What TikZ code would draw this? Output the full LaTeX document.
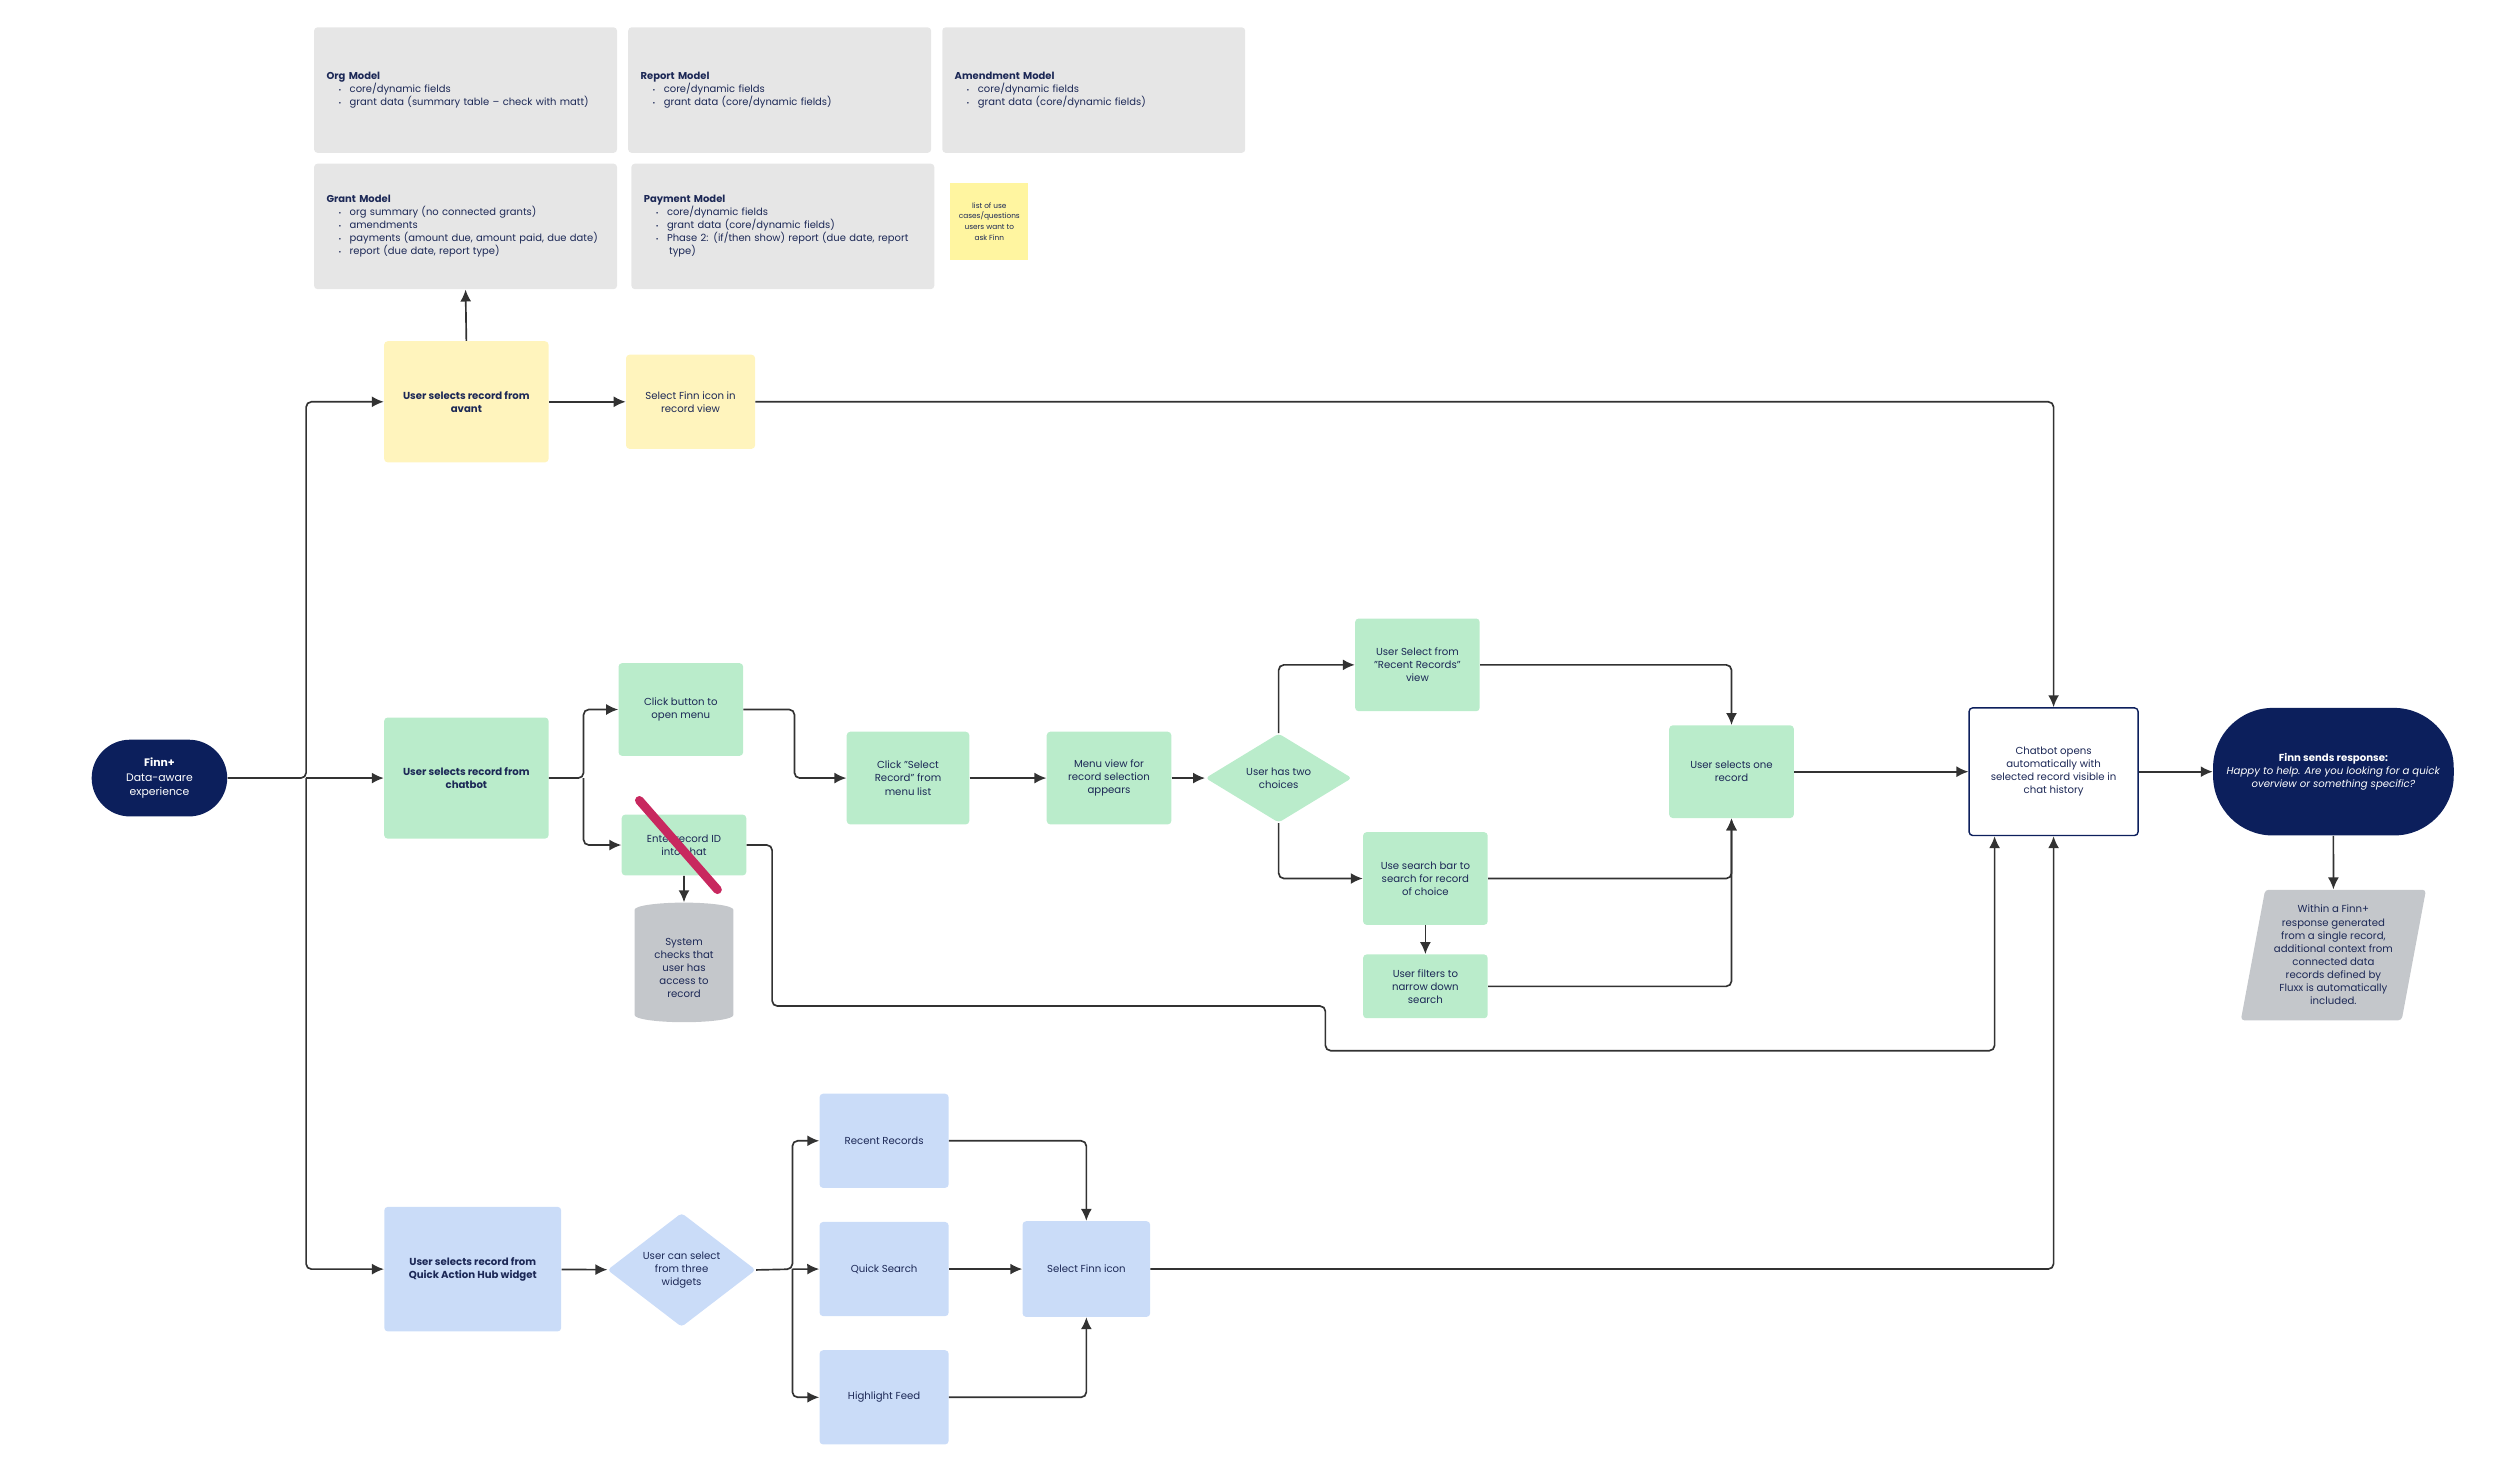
\documentclass[tikz,border=0pt]{standalone}
\usepackage{fontspec}
\setmainfont{Poppins}
\usepackage{tikz}
\usetikzlibrary{shapes.geometric, arrows.meta, positioning, calc}
\definecolor{finnnavy}{RGB}{12,31,92}
\definecolor{inktext}{RGB}{28,40,86}
\definecolor{avantyel}{RGB}{255,244,189}
\definecolor{chatgrn}{RGB}{186,236,203}
\definecolor{hubblu}{RGB}{202,220,248}
\definecolor{modgray}{RGB}{230,230,230}
\definecolor{sysgray}{RGB}{196,199,203}
\definecolor{stickyyel}{RGB}{255,245,160}
\definecolor{linegray}{RGB}{50,50,50}
\definecolor{strikepink}{RGB}{200,40,95}
\newcommand{\mitem}[1]{\hspace*{0.24cm}{\fontsize{3.8}{4}\selectfont\textbullet}\hspace{0.17cm}#1}
\tikzset{
  basebox/.style={rectangle, rounded corners=2pt, align=center, inner sep=2pt, text=inktext},
  ylbox/.style={basebox, fill=avantyel},
  grbox/.style={basebox, fill=chatgrn},
  blbox/.style={basebox, fill=hubblu},
  mdbox/.style={basebox, fill=modgray, inner xsep=0.25cm, text width=5.58cm, align=left,
                minimum width=6.08cm, minimum height=2.52cm, font=\fontsize{5.7}{7.4}\selectfont},
  choice/.style={diamond, rounded corners=2pt, inner sep=0pt, align=center, text=inktext},
  endpt/.style={rectangle, fill=finnnavy, text=white, align=center},
  flow/.style={-{Latex[length=2.4mm, width=2.2mm]}, line width=0.95pt, draw=linegray, rounded corners=3pt},
  strike/.style={line width=5pt, draw=strikepink, line cap=round}
}
\begin{document}
\begin{tikzpicture}[x=0.032cm, y=-0.032cm, every node/.style={font=\fontsize{5.8}{7.5}\selectfont}]
  \useasboundingbox (0,0) rectangle (1568,921);
  % data models
  \node[mdbox] (orgm) at (292,56.5)
        {\textbf{Org Model}\\ \mitem{core/dynamic fields}\\ \mitem{grant data (summary table – check with matt)}};
  \node[mdbox] (reportm) at (489,56.5)
        {\textbf{Report Model}\\ \mitem{core/dynamic fields}\\ \mitem{grant data (core/dynamic fields)}};
  \node[mdbox] (amendm) at (686,56.5)
        {\textbf{Amendment Model}\\ \mitem{core/dynamic fields}\\ \mitem{grant data (core/dynamic fields)}};
  \node[mdbox] (grantm) at (292,142)
        {\textbf{Grant Model}\\ \mitem{org summary (no connected grants)}\\ \mitem{amendments}\\
         \mitem{payments (amount due, amount paid, due date)}\\ \mitem{report (due date, report type)}};
  \node[mdbox] (paym) at (491,142)
        {\textbf{Payment Model}\\ \mitem{core/dynamic fields}\\ \mitem{grant data (core/dynamic fields)}\\
         \mitem{Phase 2: (if/then show) report (due date, report}\\ \hspace*{0.51cm}type)};
  \node[rectangle, fill=stickyyel, text=inktext, align=center, minimum width=1.57cm, minimum height=1.54cm,
        font=\fontsize{4.2}{6.2}\selectfont] (sticky) at (620.5,139)
        {list of use\\cases/questions\\users want to\\ask Finn};

  % start
  \node[endpt, rounded corners=0.77cm, minimum width=2.72cm, minimum height=1.54cm,
        font=\fontsize{6.2}{8}\selectfont] (finn) at (100,488)
        {\textbf{Finn+}\\Data-aware\\experience};
  \coordinate (fork1) at (192,488);

  % avant path
  \node[ylbox, minimum width=3.3cm, minimum height=2.43cm] (avant) at (292.5,252)
        {\textbf{User selects record from}\\\textbf{avant}};
  \node[ylbox, minimum width=2.59cm, minimum height=1.89cm, right=1.54cm of avant] (selfinn1)
        {Select Finn icon in\\record view};

  % chatbot path
  \node[grbox, minimum width=3.3cm, minimum height=2.43cm] (chatsel) at (292.5,488)
        {\textbf{User selects record from}\\\textbf{chatbot}};
  \coordinate (fork2) at (366,488);
  \node[grbox, minimum width=2.5cm, minimum height=1.86cm] (click) at (427,445)
        {Click button to\\open menu};
  \node[grbox, minimum width=2.5cm, minimum height=1.22cm] (enterid) at (429,530)
        {Enter record ID\\into chat};
  \node[cylinder, shape border rotate=90, aspect=0.2, fill=sysgray, text=inktext, align=center,
        minimum width=1.98cm, minimum height=2.4cm] (syscheck) at (429,607)
        {System\\checks that\\user has\\access to\\record};
  \node[grbox, minimum width=2.46cm, minimum height=1.86cm] (selrec) at (569.5,488)
        {Click "Select\\Record" from\\menu list};
  \node[grbox, minimum width=2.5cm, minimum height=1.86cm, right=1.54cm of selrec] (menuview)
        {Menu view for\\record selection\\appears};
  \node[choice, fill=chatgrn, minimum width=2.94cm, minimum height=1.79cm, right=0.67cm of menuview] (twochoice)
        {User has two\\choices};
  \node[grbox, minimum width=2.5cm, minimum height=1.86cm] (recent) at (889,417)
        {User Select from\\"Recent Records"\\view};
  \node[grbox, minimum width=2.5cm, minimum height=1.86cm] (search) at (894,551)
        {Use search bar to\\search for record\\of choice};
  \node[grbox, minimum width=2.5cm, minimum height=1.28cm, below=0.58cm of search] (filter)
        {User filters to\\narrow down\\search};
  \node[grbox, minimum width=2.5cm, minimum height=1.86cm] (selone) at (1086,484)
        {User selects one\\record};

  % chat result
  \node[basebox, fill=white, draw=finnnavy, line width=0.8pt, minimum width=3.39cm, minimum height=2.56cm]
        (chatopen) at (1288,484)
        {Chatbot opens\\automatically with\\selected record visible in\\chat history};
  \node[endpt, rounded corners=1.2cm, minimum width=4.83cm, minimum height=2.56cm] (response) at (1463.5,484)
        {\textbf{Finn sends response:}\\\textit{Happy to help. Are you looking for a quick}\\\textit{overview or something specific?}};
  \node[trapezium, trapezium left angle=78, trapezium right angle=102, trapezium stretches=true,
        rounded corners=2pt, fill=sysgray, text=inktext, align=center, inner sep=0pt,
        minimum width=3.74cm, minimum height=2.62cm] (context) at (1463.5,599)
        {Within a Finn+\\response generated\\from a single record,\\additional context from\\connected data\\records defined by\\Fluxx is automatically\\included.};

  % quick action hub path
  \node[blbox, minimum width=3.55cm, minimum height=2.5cm] (qah) at (296.5,796)
        {\textbf{User selects record from}\\\textbf{Quick Action Hub widget}};
  \node[choice, fill=hubblu, minimum width=2.98cm, minimum height=1.89cm] (widgets) at (427.5,796.5)
        {User can select\\from three\\widgets};
  \coordinate (fork3) at (497,796);
  \node[blbox, minimum width=2.59cm, minimum height=1.89cm] (recentw) at (554.5,715.5) {Recent Records};
  \node[blbox, minimum width=2.59cm, minimum height=1.89cm, below=0.67cm of recentw] (quicks) {Quick Search};
  \node[blbox, minimum width=2.59cm, minimum height=1.89cm, below=0.67cm of quicks] (highlight) {Highlight Feed};
  \node[blbox, minimum width=2.56cm, minimum height=1.92cm, right=1.47cm of quicks] (selfinn2) {Select Finn icon};

  % connectors
  \draw[flow] (finn.east) -- (fork1) |- (avant.west);
  \draw[flow] (fork1) -- (chatsel.west);
  \draw[flow] (fork1) |- (qah.west);
  \draw[flow] (avant.north) -- (grantm.south);
  \draw[flow] (avant) -- (selfinn1);
  \draw[flow] (selfinn1.east) -| (chatopen.north);
  \draw[flow] (chatsel.east) -- (fork2) |- (click.west);
  \draw[flow] (fork2) |- (enterid.west);
  \draw[flow] (enterid.south) -- (syscheck.north);
  \draw[flow] (click.east) -- ++(32,0) |- (selrec.west);
  \draw[flow] (selrec) -- (menuview);
  \draw[flow] (menuview) -- (twochoice);
  \draw[flow] (twochoice.north) |- (recent.west);
  \draw[flow] (twochoice.south) |- (search.west);
  \draw[flow] (search) -- (filter);
  \draw[flow] (recent.east) -| (selone.north);
  \draw[flow] (search.east) -| (selone.south);
  \draw[flow] (filter.east) -| (selone.south);
  \draw[flow] (selone) -- (chatopen);
  \draw[flow] (chatopen) -- (response);
  \draw[flow] (response.south) -- (context.north);
  \draw[flow] (enterid.east) -- ++(16,0) -- ++(0,101) -- ++(347,0) -- ++(0,28)
        -| ([xshift=-1.184cm]chatopen.south);
  \draw[flow] (qah) -- (widgets);
  \draw[flow] (widgets.east) -- (fork3) |- (recentw.west);
  \draw[flow] (fork3) -- (quicks.west);
  \draw[flow] (fork3) |- (highlight.west);
  \draw[flow] (recentw.east) -| (selfinn2.north);
  \draw[flow] (quicks) -- (selfinn2);
  \draw[flow] (highlight.east) -| (selfinn2.south);
  \draw[flow] (selfinn2.east) -| (chatopen.south);
  % strike over record ID entry
  \draw[strike] ($(enterid.center)+(-28,-28)$) -- ($(enterid.center)+(21,28)$);
\end{tikzpicture}
\end{document}
